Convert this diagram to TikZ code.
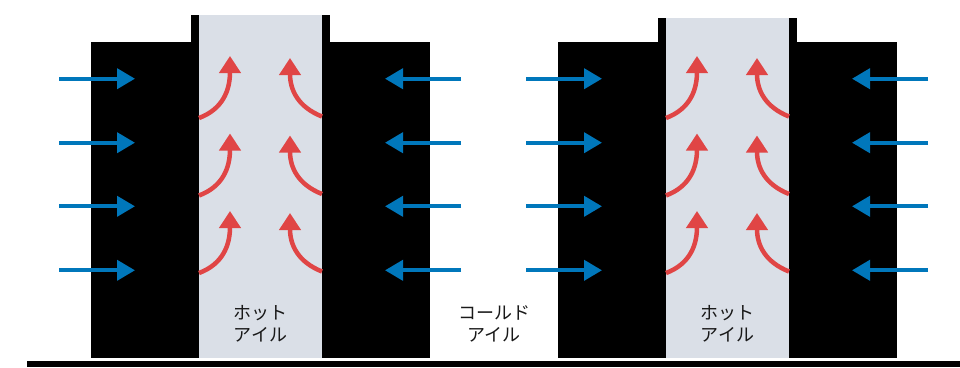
\documentclass[tikz,border=0pt]{standalone}
\usepackage{fontspec}
\newfontfamily\jpfont{Noto Sans CJK JP}
\usetikzlibrary{arrows.meta}
\definecolor{inflow}{RGB}{0,119,187}
\definecolor{exhaust}{RGB}{224,69,69}
\definecolor{aislegray}{RGB}{218,223,231}

\begin{document}
\begin{tikzpicture}[
            x = 1pt, y = -1pt,
            every node/.style={font=\jpfont\fontsize{18}{22}\selectfont, align=center, text=black!90},
            cool/.style={draw=inflow, line width=4pt, -{Triangle[width=20pt,length=18pt]}},
            hot/.style={draw=exhaust, line width=4.5pt, -{Triangle[width=21pt,length=17pt]}},
            ]
        \useasboundingbox (0,0) rectangle (960,367);

        \foreach \dx/\top/\g in {0/14.7/a, 467/18/b} {
          \begin{scope}[shift={(\dx,0)}]
            % racks and aisle
            \fill (91,42) rectangle (430,357.7);
            \fill (191,\top) rectangle (330,42);
            \fill[aislegray] (199,\top) rectangle (322,357.7);
            \node (hot-\g) at (260.5,323.5) {ホット\\アイル};

            % cold air in
            \foreach \y [count=\i] in {78.7,142.7,206.3,270.3} {
              \coordinate (inl-\g\i) at (59,\y);
              \coordinate (outl-\g\i) at (135,\y);
              \coordinate (inr-\g\i) at (461,\y);
              \coordinate (outr-\g\i) at (385,\y);
              \draw[cool] (inl-\g\i) -- (outl-\g\i);
              \draw[cool] (inr-\g\i) -- (outr-\g\i);
            }

            % hot air up
            \foreach \s [count=\i] in {118,195.5,273} {
              \coordinate (hl-\g\i) at (199,\s);
              \coordinate (hr-\g\i) at (322,\s-1.5);
              \draw[hot] (hl-\g\i) .. controls (223,\s-9) and (230,\s-28) .. (230,\s-62);
              \draw[hot] (hr-\g\i) .. controls (298,\s-11) and (290,\s-28) .. (290,\s-60);
            }
          \end{scope}
        }

        \node (cold) at (494,323.5) {コールド\\アイル};

        % floor
        \fill (27,360.5) rectangle (960,367);
    \end{tikzpicture}
\end{document}
